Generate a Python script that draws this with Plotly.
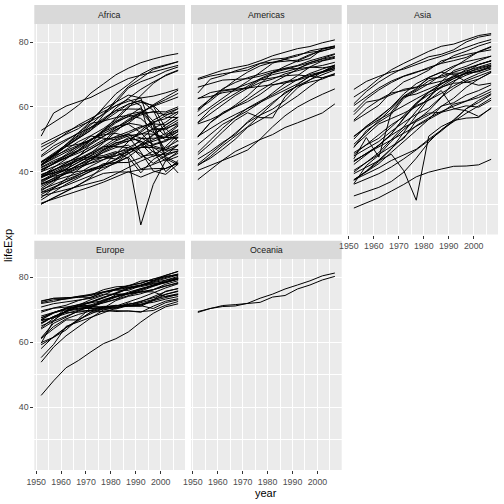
import plotly.graph_objects as go
import plotly.express as px

# facet order and axis breaks as in the picture
CONTINENTS = ["Africa", "Americas", "Asia", "Europe", "Oceania"]
X_TICKS = [1950, 1960, 1970, 1980, 1990, 2000]
X_MINOR = [1955, 1965, 1975, 1985, 1995, 2005]
Y_TICKS = [40, 60, 80]
Y_MINOR = [30, 50, 70]

# gapminder table (country, continent, year, lifeExp) shipped with plotly
gap = px.data.gapminder()

W = H = 504
col_px = [(34.3, 185.0), (191.0, 341.7), (347.0, 498.0)]
row_px = [(24.0, 234.5), (259.0, 470.0)]
strip_px = [(5.0, 24.0), (240.7, 259.0)]

xr = [1949.25, 2009.75]
yr = [20.65, 85.55]

fnt = "Liberation Sans, Arial, sans-serif"

fig = go.Figure()
layout = dict(
    template="none",
    width=W, height=H,
    margin=dict(l=0, r=0, t=0, b=0),
    paper_bgcolor="white",
    plot_bgcolor="#EBEBEB",
    showlegend=False,
    font=dict(family=fnt),
)
shapes = []
annotations = []

for i, cont in enumerate(CONTINENTS):
    r, c = divmod(i, 3)
    n = "" if i == 0 else str(i + 1)
    x0, x1 = col_px[c]
    y0, y1 = row_px[r]
    s0, s1 = strip_px[r]

    xs, ys = [], []
    sub = gap[gap["continent"] == cont]
    for country, d in sub.groupby("country", sort=False):
        d = d.sort_values("year")
        xs += list(d["year"]) + [None]
        ys += list(d["lifeExp"]) + [None]
    fig.add_trace(go.Scatter(
        x=xs, y=ys, mode="lines",
        line=dict(color="black", width=1.0),
        xaxis="x" + n, yaxis="y" + n, hoverinfo="skip",
    ))

    show_x = (r == 1) or (c == 2)
    show_y = c == 0
    layout["xaxis" + n] = dict(
        domain=[x0 / W, x1 / W], anchor="y" + n, range=xr,
        tickmode="array", tickvals=X_TICKS, tickangle=0, automargin=False,
        showticklabels=show_x, ticks="outside" if show_x else "",
        ticklen=3, tickwidth=1, tickcolor="#333333",
        tickfont=dict(size=8.8, color="#4D4D4D"),
        showgrid=True, gridcolor="white", gridwidth=1.1,
        minor=dict(tickvals=X_MINOR, showgrid=True, gridcolor="white", gridwidth=0.55),
        zeroline=False, showline=False, fixedrange=True,
    )
    layout["yaxis" + n] = dict(
        domain=[1 - y1 / H, 1 - y0 / H], anchor="x" + n, range=yr,
        tickmode="array", tickvals=Y_TICKS, automargin=False,
        showticklabels=show_y, ticks="outside" if show_y else "",
        ticklen=3, tickwidth=1, tickcolor="#333333",
        tickfont=dict(size=8.8, color="#4D4D4D"),
        showgrid=True, gridcolor="white", gridwidth=1.1,
        minor=dict(tickvals=Y_MINOR, showgrid=True, gridcolor="white", gridwidth=0.55),
        zeroline=False, showline=False, fixedrange=True,
    )

    shapes.append(dict(
        type="rect", xref="paper", yref="paper",
        x0=x0 / W, x1=x1 / W, y0=1 - s1 / H, y1=1 - s0 / H,
        fillcolor="#D9D9D9", line=dict(width=0), layer="below",
    ))
    annotations.append(dict(
        text=cont, xref="paper", yref="paper",
        x=(x0 + x1) / 2 / W, y=1 - (s0 + s1) / 2 / H,
        xanchor="center", yanchor="middle", showarrow=False,
        font=dict(size=8.8, color="#1A1A1A"),
    ))

annotations.append(dict(
    text="year", xref="paper", yref="paper", x=266 / W, y=1 - 492.5 / H,
    xanchor="center", yanchor="middle", showarrow=False,
    font=dict(size=11, color="black"),
))
annotations.append(dict(
    text="lifeExp", xref="paper", yref="paper", x=8 / W, y=1 - 246 / H,
    xanchor="center", yanchor="middle", showarrow=False, textangle=-90,
    font=dict(size=11, color="black"),
))

layout["shapes"] = shapes
layout["annotations"] = annotations
fig.update_layout(**layout)
# drop the page's default body margin so the 504px figure sits at 0,0
fig.write_html("out.html", config={"displayModeBar": False},
               post_script="document.body.style.margin='0';")
